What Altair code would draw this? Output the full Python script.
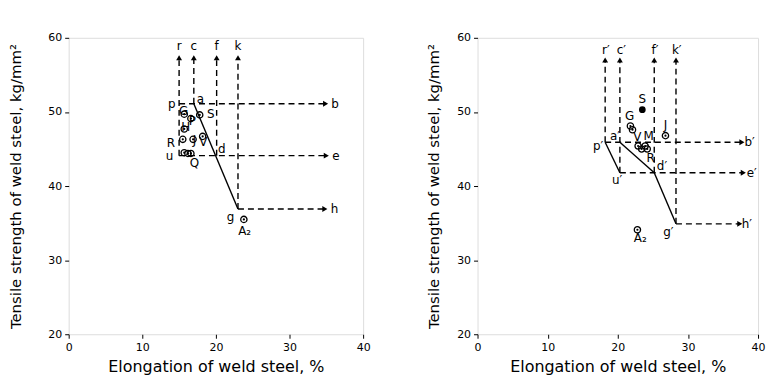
import altair as alt
import pandas as pd

FONT = "DejaVu Sans"

# ---------------- Left panel ----------------
L_vx = [15.0, 17.0, 20.1, 23.0]          # r, c, f, k verticals
L_vy0 = [44.1, 51.1, 44.1, 36.9]
L_vtop = 57.3
L_hy = [51.1, 44.1, 36.9]                 # p-b, u-e, g-h horizontals
L_hx0 = [15.0, 15.0, 23.0]
L_hx1 = [34.9, 35.0, 34.8]
L_sx = [17.0]; L_sy = [51.1]; L_sx2 = [23.0]; L_sy2 = [36.9]   # a-g solid
L_open_x = [15.7, 16.6, 17.8, 15.7, 15.5, 16.9, 18.2, 15.7, 16.2, 16.6, 23.8]
L_open_y = [49.7, 49.1, 49.6, 47.7, 46.3, 46.3, 46.7, 44.5, 44.4, 44.4, 35.5]
L_fill_x = []
L_fill_y = []
L_lab = ["r", "c", "f", "k", "p", "a", "b", "d", "e", "u", "R", "Q", "g", "h", "A₂",
         "G", "P", "S", "H", "J", "V"]
L_lab_x = [15.0, 17.0, 20.1, 23.0, 14.0, 17.9, 36.2, 20.8, 36.3, 13.7, 13.9, 17.1, 22.0, 36.1, 23.9,
           15.6, 16.8, 19.3, 15.9, 17.1, 18.3]
L_lab_y = [58.9, 58.9, 58.9, 58.9, 51.1, 51.8, 51.1, 45.0, 44.1, 44.0, 45.8, 43.1, 35.8, 36.9, 33.9,
           50.1, 48.8, 49.7, 47.9, 46.2, 45.9]

# ---------------- Right panel ----------------
R_vx = [18.2, 20.3, 25.2, 28.3]          # r', c', f', k'
R_vy0 = [45.9, 41.8, 41.8, 34.9]
R_vtop = 57.0
R_hy = [45.9, 41.8, 34.9]                 # p'-b', u'-e', g'-h'
R_hx0 = [18.2, 20.3, 28.3]
R_hx1 = [37.7, 37.9, 37.4]
R_sx = [18.2, 20.3, 25.2]; R_sy = [45.9, 45.9, 41.8]
R_sx2 = [20.3, 25.2, 28.3]; R_sy2 = [41.8, 41.8, 34.9]
R_open_x = [21.8, 22.1, 22.9, 23.4, 23.9, 24.2, 26.8, 22.8]
R_open_y = [48.1, 47.6, 45.4, 45.0, 45.4, 45.0, 46.8, 34.1]
R_fill_x = [23.5]
R_fill_y = [50.3]
R_lab = ["r′", "c′", "f′", "k′", "p′", "a′", "b′", "d′", "e′", "u′", "g′", "h′", "A₂",
         "S", "G", "V", "M", "J", "R"]
R_lab_x = [18.3, 20.5, 25.3, 28.4, 17.2, 19.6, 38.8, 26.3, 39.1, 19.9, 27.2, 38.4, 23.2,
           23.5, 21.7, 22.8, 24.4, 26.8, 24.7]
R_lab_y = [58.4, 58.4, 58.4, 58.4, 45.4, 46.8, 45.9, 42.7, 41.8, 40.8, 33.8, 34.9, 33.0,
           51.7, 49.4, 46.6, 46.8, 48.3, 43.8]

X_TICKS = [0, 10, 20, 30, 40]
Y_TICKS = [20, 30, 40, 50, 60]


def panel(vx, vy0, vtop, hy, hx0, hx1, sx, sy, sx2, sy2, ox, oy, fx, fy,
          lab, labx, laby, width, height, title_pad):
    xs = alt.Scale(domain=[0, 40], nice=False, zero=False)
    ys = alt.Scale(domain=[20, 60], nice=False, zero=False)
    xax = alt.Axis(values=X_TICKS, grid=False, domain=False, tickSize=4, labelPadding=3,
                   titlePadding=6, labelFontSize=11, titleFontSize=16, labelFont=FONT,
                   titleFont=FONT, titleFontWeight="normal", labelColor="black",
                   titleColor="black", tickColor="black", labelFlush=False)
    yax = alt.Axis(values=Y_TICKS, grid=False, domain=False, tickSize=4, labelPadding=3,
                   titlePadding=title_pad, labelFontSize=11, titleFontSize=15, labelFont=FONT,
                   titleFont=FONT, titleFontWeight="normal", labelColor="black",
                   titleColor="black", tickColor="black", labelFlush=False)
    X = alt.X("x:Q", scale=xs, axis=xax, title="Elongation of weld steel, %")
    Y = alt.Y("y:Q", scale=ys, axis=yax, title="Tensile strength of weld steel, kg/mm²")

    dashed = pd.DataFrame({
        "x": vx + hx0, "y": vy0 + hy,
        "x2": vx + hx1, "y2": [vtop] * len(vx) + hy,
    })
    solid = pd.DataFrame({"x": sx, "y": sy, "x2": sx2, "y2": sy2})
    up = pd.DataFrame({"x": vx, "y": [vtop] * len(vx)})
    right = pd.DataFrame({"x": hx1, "y": hy})
    opn = pd.DataFrame({"x": ox, "y": oy})
    fil = pd.DataFrame({"x": fx + ox, "y": fy + oy})
    big = pd.DataFrame({"x": fx, "y": fy})
    labels = pd.DataFrame({"x": labx, "y": laby, "t": lab})

    layers = [
        alt.Chart(dashed).mark_rule(color="black", strokeWidth=1.4, strokeDash=[6, 4]).encode(
            x=X, y=Y, x2="x2:Q", y2="y2:Q"),
        alt.Chart(solid).mark_rule(color="black", strokeWidth=1.4).encode(
            x=X, y=Y, x2="x2:Q", y2="y2:Q"),
        alt.Chart(up).mark_point(shape="triangle-up", filled=True, color="black", size=35,
                                 opacity=1).encode(x=X, y=Y),
        alt.Chart(right).mark_point(shape="triangle-right", filled=True, color="black", size=35,
                                    opacity=1).encode(x=X, y=Y),
        alt.Chart(opn).mark_point(shape="circle", filled=False, color="black", size=40,
                                  strokeWidth=1.3, opacity=1).encode(x=X, y=Y),
        alt.Chart(fil).mark_point(shape="circle", filled=True, color="black", size=5,
                                  opacity=1).encode(x=X, y=Y),
        alt.Chart(labels).mark_text(font=FONT, fontSize=12, color="black").encode(
            x=X, y=Y, text="t:N"),
    ]
    if len(fx):
        layers.append(alt.Chart(big).mark_point(shape="circle", filled=True, color="black",
                                                size=45, opacity=1).encode(x=X, y=Y))
    return alt.layer(*layers).properties(width=width, height=height)


left = panel(L_vx, L_vy0, L_vtop, L_hy, L_hx0, L_hx1, L_sx, L_sy, L_sx2, L_sy2,
             L_open_x, L_open_y, L_fill_x, L_fill_y, L_lab, L_lab_x, L_lab_y,
             296, 298, 24)
right = panel(R_vx, R_vy0, R_vtop, R_hy, R_hx0, R_hx1, R_sx, R_sy, R_sx2, R_sy2,
              R_open_x, R_open_y, R_fill_x, R_fill_y, R_lab, R_lab_x, R_lab_y,
              282, 298, 15)

chart = alt.hconcat(left, right, spacing=55).properties(
    padding={"left": 0, "top": 22, "right": 0, "bottom": 0}
).configure_view(stroke="black", strokeWidth=2).configure(background="white")

chart.save("out.html", embed_options={"renderer": "svg", "actions": False})
